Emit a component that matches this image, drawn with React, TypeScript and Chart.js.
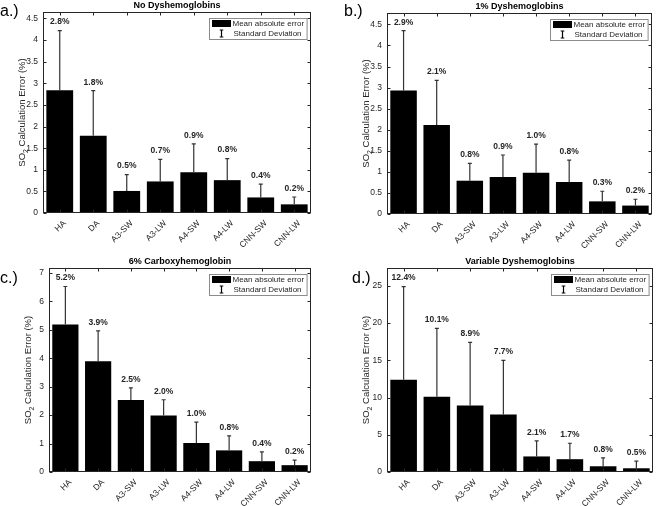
import { useEffect, useRef } from "react";
import { Chart, registerables } from "chart.js";

Chart.register(...registerables);

const FONT = "'Liberation Sans', Arial, Helvetica, sans-serif";
const INK = "#262626";

const methods = ["HA", "DA", "A3-SW", "A3-LW", "A4-SW", "A4-LW", "CNN-SW", "CNN-LW"];

// mean absolute error (%) and standard deviation, per condition
const noDysMean = [2.84, 1.79, 0.51, 0.73, 0.94, 0.76, 0.36, 0.2];
const noDysSd = [1.38, 1.04, 0.38, 0.51, 0.66, 0.5, 0.31, 0.17];

const oneDysMean = [2.93, 2.11, 0.79, 0.88, 0.98, 0.76, 0.3, 0.2];
const oneDysSd = [1.42, 1.06, 0.41, 0.52, 0.68, 0.52, 0.24, 0.15];

const coHbMean = [5.18, 3.89, 2.53, 1.99, 1.02, 0.76, 0.38, 0.24];
const coHbSd = [1.34, 1.07, 0.43, 0.55, 0.73, 0.51, 0.33, 0.18];

const varDysMean = [12.4, 10.1, 8.94, 7.71, 2.09, 1.72, 0.77, 0.5];
const varDysSd = [12.5, 9.2, 8.46, 7.29, 2.08, 2.14, 1.14, 0.95];

const matlabLook = {
  id: "matlabLook",
  afterDraw(chart: any, _args: any, opts: any) {
    const { ctx, chartArea: a, scales } = chart;
    const ys = scales.y;
    const mean = chart.data.datasets[0].data as number[];
    const labels = chart.data.labels as string[];
    const meta = chart.getDatasetMeta(0);
    ctx.save();

    // error bars + value labels
    meta.data.forEach((bar: any, i: number) => {
      const top = ys.getPixelForValue(mean[i] + opts.sd[i]);
      ctx.strokeStyle = "#333";
      ctx.lineWidth = 1.2;
      ctx.beginPath();
      ctx.moveTo(bar.x, bar.y);
      ctx.lineTo(bar.x, top);
      ctx.moveTo(bar.x - 2, top);
      ctx.lineTo(bar.x + 2, top);
      ctx.stroke();
      ctx.fillStyle = INK;
      ctx.font = `bold 8.5px ${FONT}`;
      ctx.textAlign = "center";
      ctx.textBaseline = "middle";
      ctx.fillText(mean[i].toFixed(1) + "%", bar.x, top - 8.5);
    });

    // rotated category labels
    ctx.font = `8.5px ${FONT}`;
    ctx.fillStyle = INK;
    ctx.textAlign = "right";
    ctx.textBaseline = "middle";
    meta.data.forEach((bar: any, i: number) => {
      ctx.save();
      ctx.translate(bar.x + 5, a.bottom + 9);
      ctx.rotate(-Math.PI / 4);
      ctx.fillText(labels[i], 0, 0);
      ctx.restore();
    });

    // axes box and inward ticks
    ctx.strokeStyle = INK;
    ctx.lineWidth = 1;
    const L = Math.round(a.left) + 0.5;
    const R = Math.round(a.right) - 0.5;
    const T = Math.round(a.top) + 0.5;
    const B = Math.round(a.bottom) - 0.5;
    ctx.strokeRect(L, T, R - L, B - T);
    ctx.beginPath();
    ys.ticks.forEach((t: any) => {
      const py = Math.round(ys.getPixelForValue(t.value)) + 0.5;
      ctx.moveTo(L, py);
      ctx.lineTo(L + 3, py);
      ctx.moveTo(R, py);
      ctx.lineTo(R - 3, py);
    });
    meta.data.forEach((bar: any) => {
      const px = Math.round(bar.x) + 0.5;
      ctx.moveTo(px, T);
      ctx.lineTo(px, T + 3);
      ctx.moveTo(px, B);
      ctx.lineTo(px, B - 3);
    });
    ctx.stroke();

    // y-axis title with subscript
    ctx.save();
    ctx.translate(a.left - 21, (a.top + a.bottom) / 2);
    ctx.rotate(-Math.PI / 2);
    ctx.fillStyle = INK;
    ctx.textAlign = "left";
    ctx.textBaseline = "alphabetic";
    const big = `9.5px ${FONT}`;
    const small = `7px ${FONT}`;
    ctx.font = big;
    const w1 = ctx.measureText("SO").width;
    const w3 = ctx.measureText(" Calculation Error (%)").width;
    ctx.font = small;
    const w2 = ctx.measureText("2").width;
    let sx = -(w1 + w2 + w3) / 2;
    const base = 3.4;
    ctx.font = big;
    ctx.fillText("SO", sx, base);
    sx += w1;
    ctx.font = small;
    ctx.fillText("2", sx, base + 2.5);
    sx += w2;
    ctx.font = big;
    ctx.fillText(" Calculation Error (%)", sx, base);
    ctx.restore();

    // title
    ctx.fillStyle = "#000";
    ctx.font = `bold 9px ${FONT}`;
    ctx.textAlign = "center";
    ctx.textBaseline = "middle";
    ctx.fillText(opts.title, (a.left + a.right) / 2, Math.max(a.top - 6, 5));

    // panel letter
    ctx.font = `16px ${FONT}`;
    ctx.textAlign = "left";
    ctx.fillText(opts.letter, opts.letterX, opts.letterY);

    // legend
    ctx.font = `8px ${FONT}`;
    const t1 = "Mean absolute error";
    const t2 = "Standard Deviation";
    const lw = 23 + Math.max(ctx.measureText(t1).width, ctx.measureText(t2).width + 1) + 3;
    const lh = 21;
    const lx = Math.round(a.right - 4 - lw) + 0.5;
    const ly = Math.round(a.top + 6) + 0.5;
    ctx.fillStyle = "#fff";
    ctx.fillRect(lx, ly, lw, lh);
    ctx.strokeStyle = "#8c8c8c";
    ctx.lineWidth = 1;
    ctx.strokeRect(lx, ly, lw, lh);
    ctx.fillStyle = "#000";
    ctx.fillRect(lx + 2.5, ly + 1.5, 19, 7);
    ctx.strokeStyle = "#000";
    ctx.lineWidth = 1.2;
    const ix = lx + 12;
    const iy = ly + 15;
    ctx.beginPath();
    ctx.moveTo(ix, iy - 3.5);
    ctx.lineTo(ix, iy + 3.5);
    ctx.moveTo(ix - 1.8, iy - 3.5);
    ctx.lineTo(ix + 1.8, iy - 3.5);
    ctx.moveTo(ix - 1.8, iy + 3.5);
    ctx.lineTo(ix + 1.8, iy + 3.5);
    ctx.stroke();
    ctx.fillStyle = INK;
    ctx.textBaseline = "middle";
    ctx.fillText(t1, lx + 23, ly + 5);
    ctx.fillText(t2, lx + 24, ly + 15);

    ctx.restore();
  },
};

type Box = { w: number; h: number; left: number; top: number; right: number; bottom: number };

function Panel(props: {
  pos: [number, number];
  box: Box;
  title: string;
  letter: string;
  letterPos: [number, number];
  mean: number[];
  sd: number[];
  yMax: number;
  yStep: number;
}) {
  const ref = useRef<HTMLCanvasElement>(null);
  const { pos, box, title, letter, letterPos, mean, sd, yMax, yStep } = props;

  useEffect(() => {
    if (!ref.current) return;
    const chart = new Chart(ref.current, {
      type: "bar",
      data: {
        labels: methods,
        datasets: [
          {
            data: mean,
            backgroundColor: "#000",
            borderColor: "#000",
            borderWidth: 0,
            barPercentage: 0.8,
            categoryPercentage: 1,
          },
        ],
      },
      options: {
        animation: false,
        responsive: false,
        layout: { padding: { left: 0, top: box.top, right: box.w - box.right, bottom: 0 } },
        plugins: {
          legend: { display: false },
          tooltip: { enabled: false },
          matlabLook: { title, letter, letterX: letterPos[0], letterY: letterPos[1], sd },
        } as any,
        scales: {
          x: {
            offset: true,
            grid: { display: false, drawTicks: false },
            border: { display: false },
            ticks: { display: false },
            afterFit: (s: any) => {
              s.height = box.h - box.bottom;
            },
          },
          y: {
            min: 0,
            max: yMax,
            grid: { display: false, drawTicks: false },
            border: { display: false },
            ticks: {
              stepSize: yStep,
              includeBounds: false,
              color: INK,
              font: { family: FONT, size: 8.5 },
              padding: 5,
              callback: (v: any) => String(Number(v)),
            },
            afterFit: (s: any) => {
              s.width = box.left;
            },
          },
        },
      },
      plugins: [matlabLook],
    });
    return () => chart.destroy();
  }, []);

  return (
    <canvas
      ref={ref}
      width={box.w}
      height={box.h}
      style={{ position: "absolute", left: pos[0], top: pos[1], width: box.w, height: box.h }}
    />
  );
}

export default function App() {
  return (
    <div style={{ position: "absolute", left: 0, top: 0, width: 657, height: 506, background: "#fff" }}>
      <Panel
        pos={[0, 0]}
        box={{ w: 328, h: 253, left: 43, top: 12, right: 311, bottom: 213 }}
        title="No Dyshemoglobins"
        letter="a.)"
        letterPos={[0, 12]}
        mean={noDysMean}
        sd={noDysSd}
        yMax={4.65}
        yStep={0.5}
      />
      <Panel
        pos={[328, 0]}
        box={{ w: 329, h: 253, left: 59, top: 13, right: 324, bottom: 214 }}
        title="1% Dyshemoglobins"
        letter="b.)"
        letterPos={[16, 12]}
        mean={oneDysMean}
        sd={oneDysSd}
        yMax={4.77}
        yStep={0.5}
      />
      <Panel
        pos={[0, 253]}
        box={{ w: 328, h: 253, left: 49, top: 15, right: 311, bottom: 219 }}
        title="6% Carboxyhemoglobin"
        letter="c.)"
        letterPos={[0, 26]}
        mean={coHbMean}
        sd={coHbSd}
        yMax={7.17}
        yStep={1}
      />
      <Panel
        pos={[328, 253]}
        box={{ w: 329, h: 253, left: 59, top: 15, right: 325, bottom: 219 }}
        title="Variable Dyshemoglobins"
        letter="d.)"
        letterPos={[24, 26]}
        mean={varDysMean}
        sd={varDysSd}
        yMax={27.4}
        yStep={5}
      />
    </div>
  );
}
